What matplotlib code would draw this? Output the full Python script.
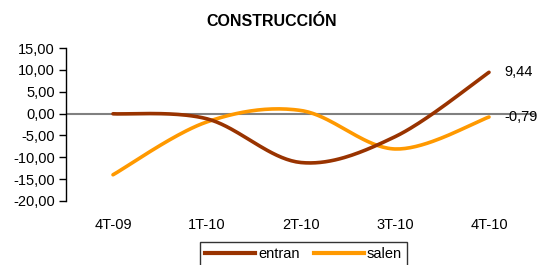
import numpy as np
import matplotlib.pyplot as plt
from matplotlib.lines import Line2D

plt.rcParams['font.family'] = ['Liberation Sans', 'DejaVu Sans']

categories = ["4T-09", "1T-10", "2T-10", "3T-10", "4T-10"]
entran = [-0.05, -1.2, -11.2, -5.3, 9.44]
salen = [-14.0, -1.9, 0.7, -8.1, -0.79]
yticks = [15, 10, 5, 0, -5, -10, -15, -20]


# excel-like smoothed line (catmull-rom through the points)
def smooth(x, y, n=40):
    x = np.asarray(x, float)
    y = np.asarray(y, float)
    px = np.concatenate([[x[0]], x, [x[-1]]])
    py = np.concatenate([[y[0]], y, [y[-1]]])
    xs, ys = [], []
    t = np.linspace(0, 1, n)
    for i in range(1, len(px) - 2):
        p0, p1, p2, p3 = (np.array([px[k], py[k]]) for k in range(i - 1, i + 3))
        c1 = p1 + (p2 - p0) / 6
        c2 = p2 - (p3 - p1) / 6
        b = ((1 - t) ** 3)[:, None] * p1 + (3 * (1 - t) ** 2 * t)[:, None] * c1 \
            + (3 * (1 - t) * t ** 2)[:, None] * c2 + (t ** 3)[:, None] * p2
        xs.extend(b[:, 0])
        ys.extend(b[:, 1])
    return np.array(xs), np.array(ys)


def fmt(v):
    return f"{v:.2f}".replace(".", ",")


fig = plt.figure(figsize=(5.41, 2.65), dpi=100)
ax = fig.add_axes([66 / 541, 64 / 265, 470 / 541, 153 / 265])

x = np.arange(len(categories))
ax.axhline(0, color="#808080", lw=1.5, zorder=1)
sx, sy = smooth(x, entran)
ax.plot(sx, sy, color="#993300", lw=2.6, solid_capstyle="round", zorder=3)
sx, sy = smooth(x, salen)
ax.plot(sx, sy, color="#FF9900", lw=2.6, solid_capstyle="round", zorder=2)

ax.set_xlim(-0.5, len(categories) - 0.5)
ax.set_ylim(-20, 15)
ax.set_yticks(yticks)
ax.set_yticklabels([fmt(v) for v in yticks], fontsize=10.5)
ax.set_xticks(x)
ax.set_xticklabels(categories, fontsize=10.5)
ax.tick_params(axis="x", length=0, pad=12)
ax.tick_params(axis="y", length=5, width=1, direction="out", pad=3)
for s in ["top", "right", "bottom"]:
    ax.spines[s].set_visible(False)
ax.spines["left"].set_linewidth(1)

ax.text(x[-1] + 0.16, entran[-1], fmt(entran[-1]), fontsize=10.5, va="center", ha="left")
ax.text(x[-1] + 0.16, salen[-1], fmt(salen[-1]), fontsize=10.5, va="center", ha="left",
        clip_on=False)

fig.text(272 / 541, 1 - 22 / 265, "CONSTRUCCIÓN", ha="center", va="center",
         fontsize=11.5, fontweight="bold")

handles = [Line2D([], [], color="#993300", lw=3), Line2D([], [], color="#FF9900", lw=3)]
leg = fig.legend(handles, ["entran", "salen"], loc="lower center", ncol=2,
                 bbox_to_anchor=(303.5 / 541, -0.02), fontsize=10.5, frameon=True,
                 fancybox=False, edgecolor="black", handlelength=3.4,
                 handletextpad=0.2, columnspacing=1.0, borderpad=0.35,
                 borderaxespad=0.3)
leg.get_frame().set_linewidth(1)

fig.savefig("out.png", dpi=100)
